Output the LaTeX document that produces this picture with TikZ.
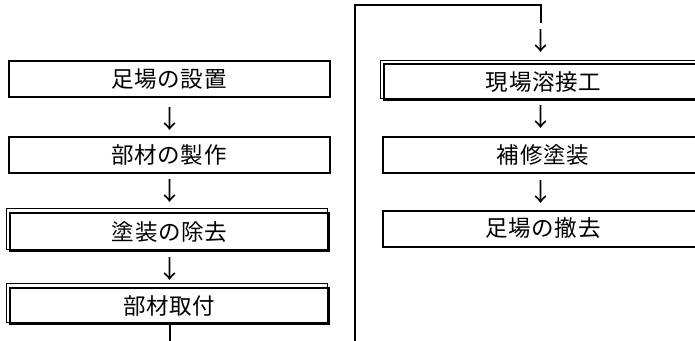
\documentclass[tikz,border=0pt]{standalone}
\usepackage{fontspec}
\newfontfamily\jp[LetterSpace=3]{Noto Sans CJK JP}
\newfontfamily\jparr{Noto Sans CJK JP}
\begin{document}
\begin{tikzpicture}[x=1pt,y=-1pt,
  box/.style={draw=black, line width=2pt, minimum width=321pt, minimum height=36pt,
    inner sep=0pt, font=\jp\fontsize{22.5}{22.5}\selectfont},
  dbox/.style={box, minimum width=319pt, minimum height=37pt},
  thinrect/.style={draw=black, line width=0.9pt},
  arr/.style={inner sep=0pt, font=\jparr\fontsize{25}{25}\selectfont},
  conn/.style={draw=black, line width=2pt}]
\path[use as bounding box, clip] (0,0) rectangle (695,340);
% left column
\node[box] (b1) at (169,79) {足場の設置};
\node[box] (b2) at (169,154.5) {部材の製作};
\node[dbox, minimum height=38.5pt] (b3) at (169.5,232) {塗装の除去};
\node[dbox, minimum height=36.5pt] (b4) at (169.5,306) {部材取付};
% right column
\node[dbox, minimum height=36pt] (b5) at (543.5,82) {現場溶接工};
\node[box] (b6) at (543,154.5) {補修塗装};
\node[box] (b7) at (543,228.5) {足場の撤去};
% thin companion frames of the double-bordered boxes
\foreach \n in {b3,b4,b5}
  \draw[thinrect] ([shift={(-3,-3)}]\n.south west) rectangle ([shift={(-3,-3)}]\n.north east);
% arrow glyphs
\node[arr] (a1) at (170,119) {↓};
\node[arr] (a2) at (170,191.5) {↓};
\node[arr] (a3) at (170,269) {↓};
\node[arr] (a4) at (541,41) {↓};
\node[arr] (a5) at (541,117.5) {↓};
\node[arr] (a6) at (541,192.5) {↓};
% connector from the left column to the right column
\coordinate (botc) at (355,360);
\coordinate (topc) at (541,5);
\coordinate (endc) at (541,23);
\draw[conn] (b4.south -| a3) |- (botc) |- (topc) -- (endc);
\end{tikzpicture}
\end{document}
